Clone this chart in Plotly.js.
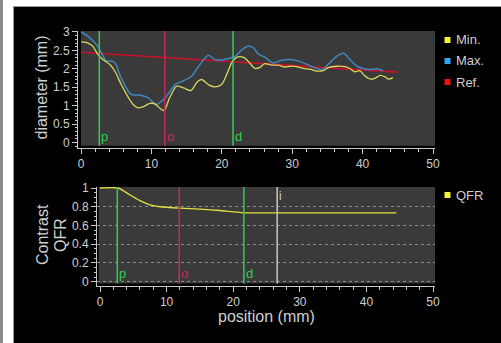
<!DOCTYPE html>
<html>
<head>
<meta charset="utf-8">
<script src="https://cdn.plot.ly/plotly-3.0.1.min.js"></script>
<style>
html,body{margin:0;padding:0;background:#fff;width:501px;height:343px;overflow:hidden;}
#strip{position:absolute;left:0;top:0;width:3px;height:343px;background:#8c8c8c;}
#frame{position:absolute;left:13px;top:6px;width:488px;height:337px;background:#9a9a9a;}
#plot{position:absolute;left:14px;top:7px;width:487px;height:336px;}
</style>
</head>
<body>
<div id="strip"></div>
<div id="frame"></div>
<div id="plot"></div>
<script>
// ---- data ----
const seriesNames = ["Min.", "Max.", "Ref."];
const minX = [0, 1.0, 1.7, 2.4, 3.1, 4.1, 4.8, 5.7, 6.7, 7.4, 8.1, 8.8, 9.8, 10.5, 11.2, 11.8, 12.6, 13.6, 14.6, 15.6, 16.5, 17.1, 18.2, 19.1, 20.0, 20.7, 21.4, 22.1, 23.1, 24.0, 24.7, 25.4, 26.1, 27.1, 28.0, 29.0, 29.7, 30.6, 31.6, 32.5, 33.5, 34.4, 35.1, 36.3, 37.5, 38.2, 38.9, 39.6, 40.3, 41.1, 41.8, 42.5, 43.2, 43.7, 44.3];
const minY = [2.73, 2.70, 2.61, 2.39, 2.25, 2.12, 1.94, 1.58, 1.23, 1.03, 0.94, 0.97, 1.06, 1.05, 0.93, 0.87, 1.22, 1.53, 1.48, 1.41, 1.64, 1.71, 1.56, 1.51, 1.58, 1.85, 2.16, 2.31, 2.31, 2.15, 2.01, 2.04, 2.14, 2.10, 2.10, 2.05, 2.07, 2.06, 2.01, 1.99, 1.94, 1.95, 2.03, 2.07, 2.06, 2.01, 1.92, 1.95, 1.81, 1.72, 1.75, 1.82, 1.78, 1.72, 1.76];
const maxX = [0, 1.0, 2.4, 3.6, 4.3, 4.8, 5.7, 7.1, 8.3, 9.5, 10.7, 11.6, 12.2, 13.4, 14.5, 15.7, 16.9, 18.1, 19.0, 20.0, 20.9, 21.9, 22.8, 23.8, 24.5, 25.2, 26.1, 27.3, 28.5, 29.7, 30.9, 32.1, 33.2, 34.2, 35.1, 36.3, 37.3, 38.2, 39.2, 40.1, 41.1, 42.0, 42.9];
const maxY = [3.0, 2.88, 2.61, 2.21, 2.21, 2.17, 1.76, 1.31, 1.29, 1.22, 1.03, 1.15, 1.27, 1.58, 1.67, 1.80, 2.12, 2.37, 2.25, 2.24, 2.28, 2.34, 2.51, 2.61, 2.57, 2.40, 2.32, 2.16, 2.23, 2.25, 2.21, 2.12, 2.03, 1.98, 2.12, 2.34, 2.42, 2.25, 2.07, 2.01, 1.98, 2.0, 1.95];
const refX = [0, 45];
const refY = [2.45, 1.91];
const qfrName = "QFR";
const qfrX = [0, 2.7, 4.5, 6.0, 7.5, 9.0, 12.0, 15.0, 18.0, 20.0, 22.0, 30.0, 44.5];
const qfrY = [1.0, 1.0, 0.926, 0.865, 0.82, 0.80, 0.785, 0.775, 0.76, 0.745, 0.735, 0.735, 0.735];
const markerLabels = ["p", "o", "d"];
const markerPos = [2.6, 11.9, 21.6];
const markerI = {label: "i", pos: 26.6};
const xTitle = "position (mm)";
const yTitleTop = "diameter (mm)";
const yTitleBottom = ["Contrast", "QFR"];

// ---- styling / geometry ----
const W = 487, H = 336, OX = 14, OY = 7;
const px = x => (x - OX) / W;
const py = y => 1 - (y - OY) / H;
const FONT = "Liberation Sans, Arial, sans-serif";
const TXT = "#cfcfcf";
const AREA = "#3a3a3a";
const cMin = "#d9d65a", cMax = "#3f86bf", cRef = "#c8102a", cQfr = "#e3df3c";
const cGreen = "#2fcf55", cCrim = "#c42a5c", cI = "#c8c8c8";
const legendColors = ["#f4f23a", "#2fa7f0", "#f01010"];

const axisBase = {
  showline: true, linecolor: "#c8c8c8", linewidth: 1,
  ticks: "outside", ticklen: 5, tickcolor: "#c8c8c8", tickwidth: 1,
  tickfont: {family: FONT, size: 12, color: TXT},
  zeroline: false, showgrid: false, fixedrange: true
};

const traces = [
  {x: refX, y: refY, xaxis: "x", yaxis: "y", mode: "lines", line: {color: cRef, width: 1.6}, showlegend: false, name: seriesNames[2]},
  {x: maxX, y: maxY, xaxis: "x", yaxis: "y", mode: "lines", line: {color: cMax, width: 1.5, shape: "spline", smoothing: 0.8}, showlegend: false, name: seriesNames[1]},
  {x: minX, y: minY, xaxis: "x", yaxis: "y", mode: "lines", line: {color: cMin, width: 1.3, shape: "spline", smoothing: 0.8}, showlegend: false, name: seriesNames[0]},
  {x: qfrX, y: qfrY, xaxis: "x2", yaxis: "y2", mode: "lines", line: {color: cQfr, width: 1.3, shape: "spline", smoothing: 0.6}, showlegend: false, name: qfrName}
];

const shapes = [
  {type: "rect", xref: "x", yref: "y", x0: 0, x1: 50.28, y0: -0.087, y1: 3.027, fillcolor: AREA, line: {width: 0}, layer: "below"},
  {type: "rect", xref: "x2", yref: "y2", x0: -0.2, x1: 50.3, y0: -0.019, y1: 1.0107, fillcolor: AREA, line: {width: 0}, layer: "below"}
];
const annotations = [];
const mColors = [cGreen, cCrim, cGreen];
markerPos.forEach((p, i) => {
  shapes.push({type: "line", xref: "x", yref: "y", x0: p, x1: p, y0: -0.087, y1: 3.027, line: {color: mColors[i], width: 1.5}});
  shapes.push({type: "line", xref: "x2", yref: "y2", x0: p, x1: p, y0: -0.019, y1: 1.0107, line: {color: mColors[i], width: 1.5}});
  annotations.push({text: markerLabels[i], xref: "x", yref: "y", x: p, y: -0.087, xanchor: "left", yanchor: "bottom", showarrow: false, xshift: 0, yshift: 0, font: {family: FONT, size: 13, color: mColors[i]}});
  annotations.push({text: markerLabels[i], xref: "x2", yref: "y2", x: p, y: -0.019, xanchor: "left", yanchor: "bottom", showarrow: false, font: {family: FONT, size: 13, color: mColors[i]}});
});
shapes.push({type: "line", xref: "x2", yref: "y2", x0: markerI.pos, x1: markerI.pos, y0: -0.019, y1: 1.0107, line: {color: cI, width: 1.5}});
annotations.push({text: markerI.label, xref: "x2", yref: "y2", x: markerI.pos, y: 1.0107, xanchor: "left", yanchor: "top", showarrow: false, font: {family: FONT, size: 12, color: cI}});

// legends (square + text)
const legY = [40, 61, 82];
seriesNames.forEach((n, i) => {
  shapes.push({type: "rect", xref: "paper", yref: "paper", xsizemode: "pixel", ysizemode: "pixel", xanchor: px(447.5), yanchor: py(legY[i]), x0: -3, x1: 3, y0: -3, y1: 3, fillcolor: legendColors[i], line: {width: 0}});
  annotations.push({text: n, xref: "paper", yref: "paper", x: px(454), y: py(legY[i]), xanchor: "left", yanchor: "middle", showarrow: false, font: {family: FONT, size: 13, color: TXT}});
});
shapes.push({type: "rect", xref: "paper", yref: "paper", xsizemode: "pixel", ysizemode: "pixel", xanchor: px(447.5), yanchor: py(195), x0: -3, x1: 3, y0: -3, y1: 3, fillcolor: legendColors[0], line: {width: 0}});
annotations.push({text: qfrName, xref: "paper", yref: "paper", x: px(454), y: py(195), xanchor: "left", yanchor: "middle", showarrow: false, font: {family: FONT, size: 13, color: TXT}});

// axis titles
annotations.push({text: yTitleTop, xref: "paper", yref: "paper", x: px(40.5), y: py(88), textangle: -90, xanchor: "center", yanchor: "middle", showarrow: false, font: {family: FONT, size: 16, color: TXT}});
annotations.push({text: yTitleBottom[0], xref: "paper", yref: "paper", x: px(42), y: py(235), textangle: -90, xanchor: "center", yanchor: "middle", showarrow: false, font: {family: FONT, size: 16, color: TXT}});
annotations.push({text: yTitleBottom[1], xref: "paper", yref: "paper", x: px(60), y: py(235), textangle: -90, xanchor: "center", yanchor: "middle", showarrow: false, font: {family: FONT, size: 16, color: TXT}});
annotations.push({text: xTitle, xref: "paper", yref: "paper", x: px(266), y: py(316), xanchor: "center", yanchor: "middle", showarrow: false, font: {family: FONT, size: 16, color: TXT}});

const layout = {
  width: W, height: H,
  paper_bgcolor: "#000", plot_bgcolor: "#000",
  margin: {l: 0, r: 0, t: 0, b: 0},
  showlegend: false,
  xaxis: Object.assign({}, axisBase, {domain: [px(78), px(435)], range: [-0.426, 50.28], dtick: 10, tick0: 0,
    minor: {dtick: 2, ticks: "outside", ticklen: 3, tickcolor: "#c8c8c8"}, anchor: "y"}),
  yaxis: Object.assign({}, axisBase, {domain: [py(148), py(31)], range: [-0.149, 3.027], dtick: 0.5, tick0: 0,
    minor: {dtick: 0.1, ticks: "outside", ticklen: 2.5, tickcolor: "#c8c8c8"}, anchor: "x"}),
  xaxis2: Object.assign({}, axisBase, {domain: [px(97), px(435)], range: [-0.45, 50.3], dtick: 10, tick0: 0,
    minor: {dtick: 2, ticks: "outside", ticklen: 3, tickcolor: "#c8c8c8"}, anchor: "y2"}),
  yaxis2: Object.assign({}, axisBase, {domain: [py(286), py(187)], range: [-0.046, 1.0107], dtick: 0.2, tick0: 0,
    showgrid: true, gridcolor: "#8a8a8a", gridwidth: 1, griddash: "3px,3px",
    minor: {dtick: 0.05, ticks: "outside", ticklen: 2.5, tickcolor: "#c8c8c8", showgrid: false}, anchor: "x2"}),
  shapes: shapes,
  annotations: annotations
};

Plotly.newPlot("plot", traces, layout, {staticPlot: true, displayModeBar: false});
</script>
</body>
</html>
